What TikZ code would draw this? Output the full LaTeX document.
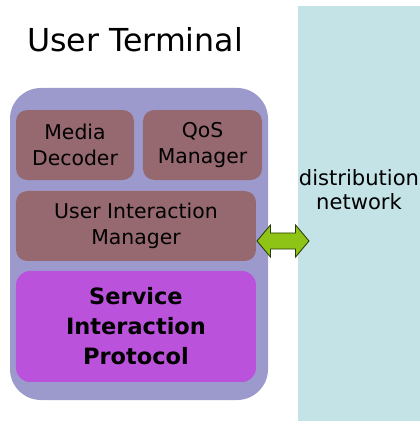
\documentclass[tikz,border=0pt]{standalone}
\usepackage{fontspec}
\setmainfont{DejaVu Sans}
\usepackage{xcolor}
\usepackage{tikz}
\usetikzlibrary{shapes.arrows,positioning}

\definecolor{termpurple}{RGB}{156,154,204}
\definecolor{modbrown}{RGB}{150,104,112}
\definecolor{protomag}{RGB}{187,82,220}
\definecolor{netteal}{RGB}{195,227,230}
\definecolor{linkgreen}{RGB}{141,196,22}

\begin{document}
\begin{tikzpicture}[
    termbox/.style={rectangle, fill=termpurple, draw=none, rounded corners=22pt, minimum width=6.45cm, minimum height=7.8cm},
    modbox/.style={rectangle, fill=modbrown, draw=none, rounded corners=8pt, minimum height=1.75cm, inner sep=0pt, align=center, font=\fontsize{14.5}{18.5}\selectfont},
    protobox/.style={rectangle, fill=protomag, draw=none, rounded corners=10pt, minimum width=6.0cm, minimum height=2.775cm, inner sep=0pt, align=center, font=\fontsize{16}{21.3}\selectfont\bfseries},
    netbox/.style={rectangle, fill=netteal, draw=none, minimum width=3.05cm, minimum height=10.375cm, inner sep=0pt},
    linkarrow/.style={double arrow, fill=linkgreen, draw=black!70!linkgreen, line width=0.6pt, minimum height=1.3cm, inner xsep=0pt, inner ysep=0.19cm, double arrow head extend=0.2cm, double arrow tip angle=100},
  ]
    \useasboundingbox (0,0) rectangle (10.5,10.525);

    % --- distribution network (right) ---
    \node[netbox] (net) at (8.975,5.1875) {};
    \node[align=center, font=\fontsize{15}{17}\selectfont] (netlbl) at (8.975,5.775) {distribution\\network};

    % --- user terminal (left) ---
    \node[font=\fontsize{22.5}{26}\selectfont] (title) at (3.375,9.525) {User Terminal};
    \node[termbox] (term) at (3.475,4.425) {};

    \node[modbox, minimum width=2.95cm] (decoder) at (1.875,6.9) {Media\\Decoder};
    \node[modbox, minimum width=2.975cm] (qos) at (5.0625,6.9) {QoS\\Manager};
    \node[modbox, minimum width=6.0cm] (uim) at (3.4,4.875) {User Interaction\\Manager};
    \node[protobox] (sip) at (3.4,2.3625) {Service\\Interaction\\Protocol};

    % link between terminal and network
    \node[linkarrow] (link) at (7.075,4.5) {};

\end{tikzpicture}
\end{document}
